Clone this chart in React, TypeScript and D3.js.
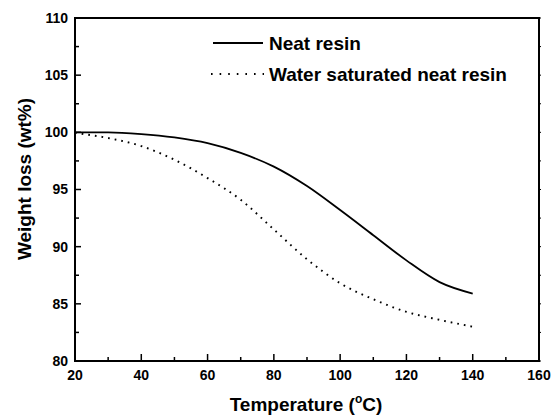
import React from "react";
import * as d3 from "d3";

const temps = [20, 30, 40, 50, 60, 70, 80, 90, 100, 110, 120, 130, 140];
const neatResin = [100, 100, 99.85, 99.55, 99.05, 98.2, 97.0, 95.3, 93.2, 91.0, 88.8, 86.9, 85.9];
const waterSaturated = [99.95, 99.5, 98.8, 97.6, 96.0, 94.1, 91.5, 88.9, 86.8, 85.4, 84.3, 83.6, 83.0];
const xTicks = [20, 40, 60, 80, 100, 120, 140, 160];
const xMinorTicks = [30, 50, 70, 90, 110, 130, 150];
const yTicks = [80, 85, 90, 95, 100, 105, 110];
const yMinorTicks = [82.5, 87.5, 92.5, 97.5, 102.5, 107.5];
const legendLabels = ["Neat resin", "Water saturated neat resin"];

const W = 559;
const H = 418;
const left = 75;
const right = 539;
const top = 18;
const bottom = 361;
const FONT = "'Liberation Sans', Arial, sans-serif";

export default function App() {
  const x = d3.scaleLinear().domain([20, 160]).range([left, right]);
  const y = d3.scaleLinear().domain([80, 110]).range([bottom, top]);
  const line = d3
    .line<number>()
    .x((_, i) => x(temps[i]))
    .y((d) => y(d))
    .curve(d3.curveMonotoneX);

  return (
    <svg
      width={W}
      height={H}
      style={{ position: "absolute", left: 0, top: 0, background: "#fff" }}
      fontFamily={FONT}
      fontWeight="bold"
    >
      <rect x={0} y={0} width={W} height={H} fill="#fff" />
      {/* curves */}
      <path d={line(neatResin) || ""} fill="none" stroke="#000" strokeWidth={1.8} />
      <path
        d={line(waterSaturated) || ""}
        fill="none"
        stroke="#000"
        strokeWidth={1.9}
        strokeDasharray="1.7 5"
      />
      {/* frame */}
      <rect
        x={left}
        y={top}
        width={right - left}
        height={bottom - top}
        fill="none"
        stroke="#000"
        strokeWidth={2}
      />
      {/* bottom ticks */}
      {xTicks.map((t) => (
        <g key={"xt" + t}>
          <line x1={x(t)} x2={x(t)} y1={bottom} y2={bottom - 7} stroke="#000" strokeWidth={1.5} />
          <text x={x(t)} y={380} textAnchor="middle" fontSize={14}>
            {t}
          </text>
        </g>
      ))}
      {xMinorTicks.map((t) => (
        <line key={"xm" + t} x1={x(t)} x2={x(t)} y1={bottom} y2={bottom - 4} stroke="#000" strokeWidth={1.5} />
      ))}
      {/* left ticks */}
      {yTicks.map((t) => (
        <g key={"yt" + t}>
          <line x1={left} x2={left + 6} y1={y(t)} y2={y(t)} stroke="#000" strokeWidth={1.5} />
          <line x1={right} x2={right + 2} y1={y(t)} y2={y(t)} stroke="#000" strokeWidth={1} />
          <text x={68} y={y(t)} dy="0.35em" textAnchor="end" fontSize={14}>
            {t}
          </text>
        </g>
      ))}
      {yMinorTicks.map((t) => (
        <g key={"ym" + t}>
          <line x1={left} x2={left + 4} y1={y(t)} y2={y(t)} stroke="#000" strokeWidth={1.5} />
          <line x1={right} x2={right + 2} y1={y(t)} y2={y(t)} stroke="#000" strokeWidth={1} />
        </g>
      ))}
      {/* axis titles */}
      <text x={306} y={411} textAnchor="middle" fontSize={19}>
        Temperature (
        <tspan fontSize={12} dy={-8}>
          o
        </tspan>
        <tspan dy={8}>C)</tspan>
      </text>
      <text
        transform={`translate(31, ${179}) rotate(-90)`}
        textAnchor="middle"
        fontSize={19}
      >
        Weight loss (wt%)
      </text>
      {/* legend */}
      <line x1={213} x2={263} y1={43} y2={43} stroke="#000" strokeWidth={1.8} />
      <text x={269} y={43} dy="0.35em" fontSize={19}>
        {legendLabels[0]}
      </text>
      <line
        x1={211}
        x2={264}
        y1={74}
        y2={74}
        stroke="#000"
        strokeWidth={1.8}
        strokeDasharray="1.6 7"
      />
      <text x={269} y={74} dy="0.35em" fontSize={19}>
        {legendLabels[1]}
      </text>
    </svg>
  );
}
